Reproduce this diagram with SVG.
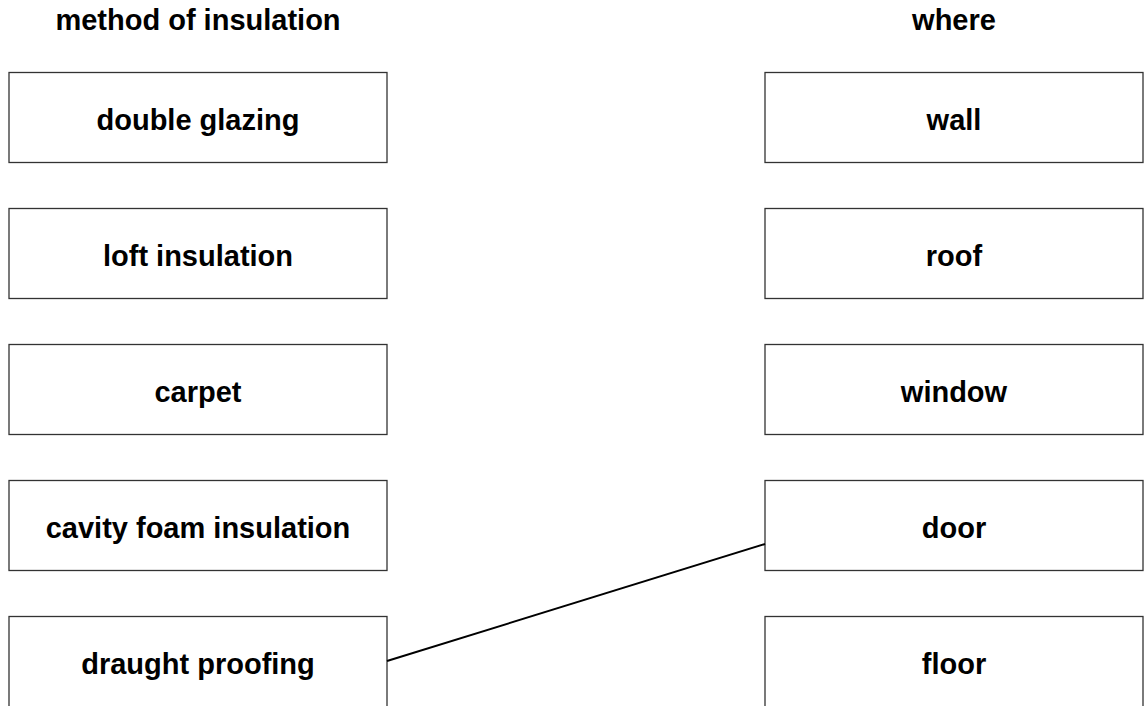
<svg xmlns="http://www.w3.org/2000/svg" width="1147" height="706" viewBox="0 0 1147 706">
<style>
.box{fill:#fff;stroke:#333;stroke-width:1.3}
.t{font-family:"Liberation Sans",Arial,sans-serif;font-weight:bold;font-size:29px;text-anchor:middle;fill:#000}
.c{stroke:#000;stroke-width:2;fill:none}
</style>
<rect width="1147" height="706" fill="#fff"/>
<text class="t" x="198" y="30">method of insulation</text>
<text class="t" x="954" y="30">where</text>
<g id="n-double-glazing"><rect class="box" x="9" y="72.5" width="378" height="90"/><text class="t" x="198" y="129.5">double glazing</text></g>
<g id="n-loft-insulation"><rect class="box" x="9" y="208.5" width="378" height="90"/><text class="t" x="198" y="265.5">loft insulation</text></g>
<g id="n-carpet"><rect class="box" x="9" y="344.5" width="378" height="90"/><text class="t" x="198" y="401.5">carpet</text></g>
<g id="n-cavity"><rect class="box" x="9" y="480.5" width="378" height="90"/><text class="t" x="198" y="537.5">cavity foam insulation</text></g>
<g id="n-draught"><rect class="box" x="9" y="616.5" width="378" height="100"/><text class="t" x="198" y="673.5">draught proofing</text></g>
<g id="n-wall"><rect class="box" x="765" y="72.5" width="378" height="90"/><text class="t" x="954" y="129.5">wall</text></g>
<g id="n-roof"><rect class="box" x="765" y="208.5" width="378" height="90"/><text class="t" x="954" y="265.5">roof</text></g>
<g id="n-window"><rect class="box" x="765" y="344.5" width="378" height="90"/><text class="t" x="954" y="401.5">window</text></g>
<g id="n-door"><rect class="box" x="765" y="480.5" width="378" height="90"/><text class="t" x="954" y="537.5">door</text></g>
<g id="n-floor"><rect class="box" x="765" y="616.5" width="378" height="100"/><text class="t" x="954" y="673.5">floor</text></g>
<g id="connectors"><line class="c" x1="387" y1="661" x2="765" y2="544"/></g>
</svg>
